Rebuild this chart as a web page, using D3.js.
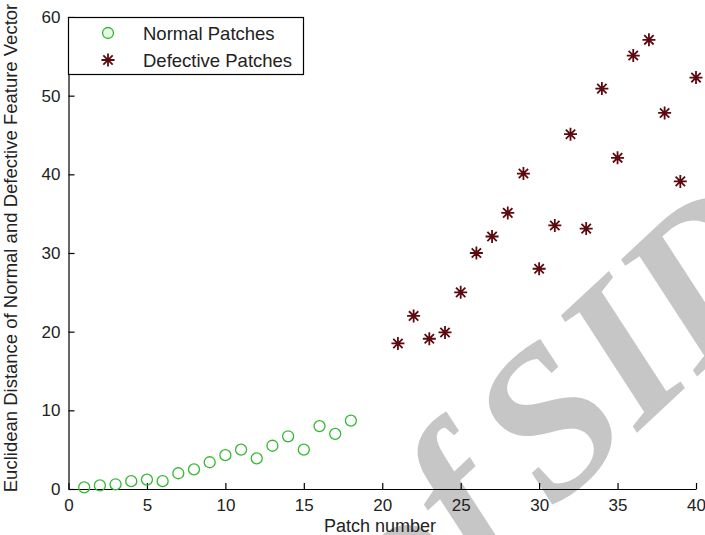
<!DOCTYPE html>
<html>
<head>
<meta charset="utf-8">
<script src="https://cdn.jsdelivr.net/npm/d3@7"></script>
<style>
  body { margin: 0; background: #fff; }
  .lbl { font-family: "Liberation Sans", Arial, sans-serif; }
</style>
</head>
<body>
<div id="container"></div>
<script>
/* DATA */
const normalX = [1, 2, 3, 4, 5, 6, 7, 8, 9, 10, 11, 12, 13, 14, 15, 16, 17, 18];
const normalY = [0.2, 0.45, 0.6, 1.0, 1.2, 1.0, 2.0, 2.5, 3.4, 4.3, 5.0, 3.9, 5.5, 6.7, 5.0, 8.0, 7.0, 8.7];
const defectX = [21, 22, 23, 24, 25, 26, 27, 28, 29, 30, 31, 32, 33, 34, 35, 36, 37, 38, 39, 40];
const defectY = [18.5, 22.0, 19.1, 19.9, 25.0, 30.0, 32.1, 35.1, 40.1, 28.0, 33.5, 45.1, 33.1, 50.9, 42.1, 55.1, 57.1, 47.8, 39.1, 52.3];
const xTicks = [0, 5, 10, 15, 20, 25, 30, 35, 40];
const yTicks = [0, 10, 20, 30, 40, 50, 60];
const legendLabels = ["Normal Patches", "Defective Patches"];

/* CONSTANTS */
const width = 705, height = 535;
const margin = { top: 17, right: 9, bottom: 46, left: 68.5 };
const innerW = width - margin.left - margin.right;
const innerH = height - margin.top - margin.bottom;

const svg = d3.select("#container")
  .append("svg")
  .attr("width", width)
  .attr("height", height);

// watermark (under the plot)
const wm = svg.append("text")
  .attr("transform", "translate(405,649) rotate(-43)")
  .attr("fill", "#c6c6c6")
  .style("font-family", "'Liberation Serif', 'DejaVu Serif', serif")
  .style("font-style", "italic")
  .style("font-weight", "bold")
  .style("font-size", "210px");
wm.append("tspan").text("of");
wm.append("tspan").attr("dx", -25).text(" SID");

const g = svg.append("g")
  .attr("transform", `translate(${margin.left},${margin.top})`);

const xScale = d3.scaleLinear().domain([0, 40]).range([0, innerW]);
const yScale = d3.scaleLinear().domain([0, 60]).range([innerH, 0]);

// axes (ticks point inward)
const xAxis = g.append("g")
  .attr("transform", `translate(0,${innerH})`)
  .call(d3.axisBottom(xScale).tickValues(xTicks).tickSizeInner(-6).tickSizeOuter(0).tickPadding(10));
const yAxis = g.append("g")
  .call(d3.axisLeft(yScale).tickValues(yTicks).tickSizeInner(-6).tickSizeOuter(0).tickPadding(8));

[xAxis, yAxis].forEach(a => {
  a.select(".domain").attr("stroke", "#000").attr("stroke-width", 1.2);
  a.selectAll(".tick line").attr("stroke", "#000").attr("stroke-width", 1.2);
  a.selectAll(".tick text")
    .attr("fill", "#222")
    .style("font-size", "17px")
    .style("font-family", "'Liberation Sans', Arial, sans-serif");
});

// axis titles
svg.append("text")
  .attr("class", "lbl")
  .attr("x", 380)
  .attr("y", 532)
  .attr("text-anchor", "middle")
  .attr("fill", "#222")
  .style("font-size", "18px")
  .text("Patch number");

svg.append("text")
  .attr("class", "lbl")
  .attr("transform", "translate(17,248) rotate(-90)")
  .attr("text-anchor", "middle")
  .attr("fill", "#222")
  .style("font-size", "18.5px")
  .text("Euclidean Distance of Normal and Defective Feature Vector");

// '*' marker
function starPath(r) {
  const d = r * 0.72;
  return `M${-r},0L${r},0M0,${-r}L0,${r}M${-d},${-d}L${d},${d}M${-d},${d}L${d},${-d}`;
}

const green = "#34b834";
const maroon = "#5c0a0e";

g.selectAll(".normal")
  .data(normalX.map((x, i) => ({ x, y: normalY[i] })))
  .enter()
  .append("circle")
  .attr("class", "normal")
  .attr("cx", d => xScale(d.x))
  .attr("cy", d => yScale(d.y))
  .attr("r", 5.5)
  .attr("fill", "none")
  .attr("stroke", green)
  .attr("stroke-width", 1.3);

g.selectAll(".defect")
  .data(defectX.map((x, i) => ({ x, y: defectY[i] })))
  .enter()
  .append("path")
  .attr("class", "defect")
  .attr("transform", d => `translate(${xScale(d.x)},${yScale(d.y)})`)
  .attr("d", starPath(6.5))
  .attr("stroke", maroon)
  .attr("stroke-width", 1.8)
  .attr("fill", "none");

// legend
const legend = svg.append("g");
legend.append("rect")
  .attr("x", 68.5).attr("y", 17.5)
  .attr("width", 235).attr("height", 57)
  .attr("fill", "#fff")
  .attr("stroke", "#000")
  .attr("stroke-width", 1.2);

legend.append("circle")
  .attr("cx", 108).attr("cy", 33).attr("r", 5.5)
  .attr("fill", "#e6f7e6").attr("stroke", green).attr("stroke-width", 1.3);
legend.append("path")
  .attr("transform", "translate(108,60)")
  .attr("d", starPath(6.5))
  .attr("stroke", maroon).attr("stroke-width", 1.8);

legend.selectAll(".lab")
  .data(legendLabels)
  .enter()
  .append("text")
  .attr("class", "lbl")
  .attr("x", 143)
  .attr("y", (d, i) => 39.5 + i * 27)
  .attr("fill", "#222")
  .style("font-size", "18.5px")
  .text(d => d);
</script>
</body>
</html>
